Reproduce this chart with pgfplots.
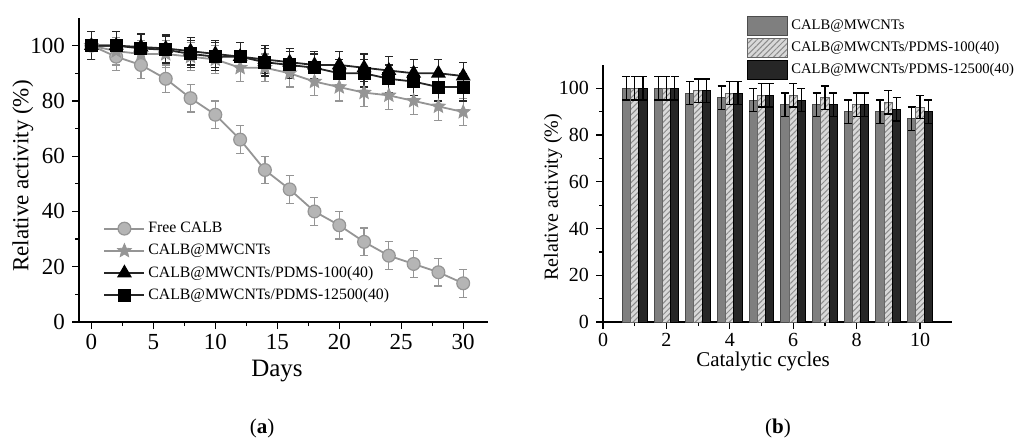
\documentclass[border=0pt]{standalone}
\usepackage{fontspec}
\setmainfont{Liberation Serif}
\usepackage{pgfplots}
\usepackage{pgfplotstable}
\pgfplotsset{compat=1.18}
\usetikzlibrary{patterns.meta}

\definecolor{lgray}{HTML}{959595}
\definecolor{mgray}{HTML}{7F7F7F}
\definecolor{hgray}{HTML}{D9D9D9}
\definecolor{dk}{HTML}{262626}

% filled five-point star
\pgfdeclareplotmark{fstar}{%
  \pgfpathmoveto{\pgfpointpolar{90}{\pgfplotmarksize}}%
  \pgfpathlineto{\pgfpointpolar{126}{0.45\pgfplotmarksize}}%
  \pgfpathlineto{\pgfpointpolar{162}{\pgfplotmarksize}}%
  \pgfpathlineto{\pgfpointpolar{198}{0.45\pgfplotmarksize}}%
  \pgfpathlineto{\pgfpointpolar{234}{\pgfplotmarksize}}%
  \pgfpathlineto{\pgfpointpolar{270}{0.45\pgfplotmarksize}}%
  \pgfpathlineto{\pgfpointpolar{306}{\pgfplotmarksize}}%
  \pgfpathlineto{\pgfpointpolar{342}{0.45\pgfplotmarksize}}%
  \pgfpathlineto{\pgfpointpolar{18}{\pgfplotmarksize}}%
  \pgfpathlineto{\pgfpointpolar{54}{0.45\pgfplotmarksize}}%
  \pgfpathclose\pgfusepathqfillstroke}

\pgfplotstableread{
d free mw p100 p12500
0 100 100 100 100
2 96 98 100 100
4 93 97 99.5 99
6 88 97 99 98.5
8 81 96 98 97
10 75 95 97 96
12 66 92 96 96
14 55 92 95 94
16 48 90 94 93
18 40 87 93 92
20 35 85 93 90
22 29 83 92 90
24 24 82 91 88
26 21 80 90 87
28 18 78 90 85
30 14 76 89 85
}\daysdata

\pgfplotstableread{
c mw p100 p12500
1 100 100 100
2 100 100 100
3 98 99 99
4 96 98 98
5 95 97 97
6 93 97 95
7 93 96 93
8 90 93 93
9 90 94 91
10 87 92 90
}\cycledata

\pgfplotsset{
  myaxis/.style={
    scale only axis,
    axis x line*=bottom, axis y line*=left,
    axis line style={-, line width=0.7pt},
    tick align=outside,
    major tick length=3.5pt, minor tick length=2pt,
    tick style={line width=0.6pt, black},
    /pgf/number format/assume math mode=true,
    ymin=0, ymax=110,
    ytick={0,20,...,100}, minor y tick num=1,
    minor x tick num=1,
  },
  errb/.style={error bars/.cd, y dir=both, y fixed=5,
    error bar style={line width=0.6pt},
    error mark options={rotate=90, mark size=2pt, line width=0.6pt},
    /pgfplots/.cd},
  errbk/.style={error bars/.cd, y dir=both, y fixed=5,
    error bar style={line width=0.6pt, black},
    error mark options={rotate=90, mark size=2pt, line width=0.6pt, black},
    /pgfplots/.cd},
}

\begin{document}
\begin{tikzpicture}
\path[use as bounding box] (0,0) rectangle (510.5pt,223pt);

% (a)
\begin{axis}[myaxis,
  at={(39.5pt,62pt)}, anchor=south west,
  width=204.5pt, height=152pt,
  xmin=-1, xmax=32,
  xtick={0,5,...,30},
  tick label style={font=\fontsize{11.5}{12}\selectfont},
  xticklabel style={yshift=1pt},
  ylabel style={font=\fontsize{11.5}{12}\selectfont},
  xlabel style={font=\fontsize{12.5}{13}\selectfont},
  xlabel={Days},
  ylabel={Relative activity (\%)},
  xlabel style={at={(axis description cs:0.484,-0.16)}, anchor=center, inner sep=1pt},
  ylabel style={at={(axis description cs:-0.137,0.48)}, anchor=center},
  legend style={draw=none, fill=none, at={(axis description cs:0.059,0.345)},
    anchor=north west, inner sep=0pt, row sep=0pt,
    font=\fontsize{7.9}{9}\selectfont,
    nodes={inner sep=1.5pt, minimum height=11.1pt}},
  legend cell align=left,
  legend image code/.code={\draw[mark repeat=2,mark phase=2,#1]
    plot coordinates {(0pt,0pt) (10pt,0pt) (20pt,0pt)};},
]
\addplot[lgray, line width=0.9pt, mark=*, mark size=3.2pt,
  mark options={fill=lgray!70, draw=lgray, line width=0.6pt}, errb]
  table[x=d, y=free] {\daysdata};
\addlegendentry{Free CALB}
\addplot[lgray, line width=0.9pt, mark=fstar, mark size=3.6pt,
  mark options={fill=lgray, draw=lgray, line width=0.4pt}, errb]
  table[x=d, y=mw] {\daysdata};
\addlegendentry{CALB@MWCNTs}
\addplot[dk, line width=0.9pt, mark=triangle*, mark size=3.4pt,
  mark options={fill=black, draw=black}, errb]
  table[x=d, y=p100] {\daysdata};
\addlegendentry{CALB@MWCNTs/PDMS-100(40)}
\addplot[dk, line width=0.9pt, mark=square*, mark size=2.8pt,
  mark options={fill=black, draw=black}, errb]
  table[x=d, y=p12500] {\daysdata};
\addlegendentry{CALB@MWCNTs/PDMS-12500(40)}
\end{axis}

% (b)
\begin{axis}[myaxis,
  at={(301.5pt,62pt)}, anchor=south west,
  width=174.35pt, height=128.5pt,
  xmin=0, xmax=11,
  xtick={0,2,...,10},
  ybar, bar width=0.26,
  tick label style={font=\fontsize{10}{11}\selectfont},
  xticklabel style={yshift=1.5pt},
  ylabel style={font=\fontsize{10}{11}\selectfont},
  xlabel style={font=\fontsize{10.5}{11}\selectfont},
  xlabel={Catalytic cycles},
  ylabel={Relative activity (\%)},
  xlabel style={at={(axis description cs:0.459,-0.152)}, anchor=center, inner sep=1pt},
  ylabel style={at={(axis description cs:-0.143,0.486)}, anchor=center},
  legend style={draw=none, fill=none, at={(axis description cs:0.413,1.195)},
    anchor=north west, inner sep=0pt, row sep=0pt,
    font=\fontsize{7.3}{8.5}\selectfont,
    nodes={inner sep=1.5pt, minimum height=11pt}},
  legend cell align=left,
  legend image code/.code={\draw[#1] (0pt,-4.75pt) rectangle (20pt,4.75pt);},
]
\addplot[bar shift=-0.26, fill=mgray, draw=black!70, line width=0.5pt, errbk]
  table[x=c, y=mw] {\cycledata};
\addlegendentry{CALB@MWCNTs}
\addplot[bar shift=0, fill=hgray, draw=black!60, line width=0.5pt,
  postaction={pattern={Lines[angle=45,distance=2pt,line width=0.5pt]}, pattern color=black!45},
  errbk]
  table[x=c, y=p100] {\cycledata};
\addlegendentry{CALB@MWCNTs/PDMS-100(40)}
\addplot[bar shift=0.26, fill=dk, draw=black, line width=0.5pt, errbk]
  table[x=c, y=p12500] {\cycledata};
\addlegendentry{CALB@MWCNTs/PDMS-12500(40)}
\end{axis}

\node[font=\fontsize{10.5}{12}\selectfont] at (131pt,9pt) {(\textbf{a})};
\node[font=\fontsize{10.5}{12}\selectfont] at (389pt,9pt) {(\textbf{b})};
\end{tikzpicture}
\end{document}
